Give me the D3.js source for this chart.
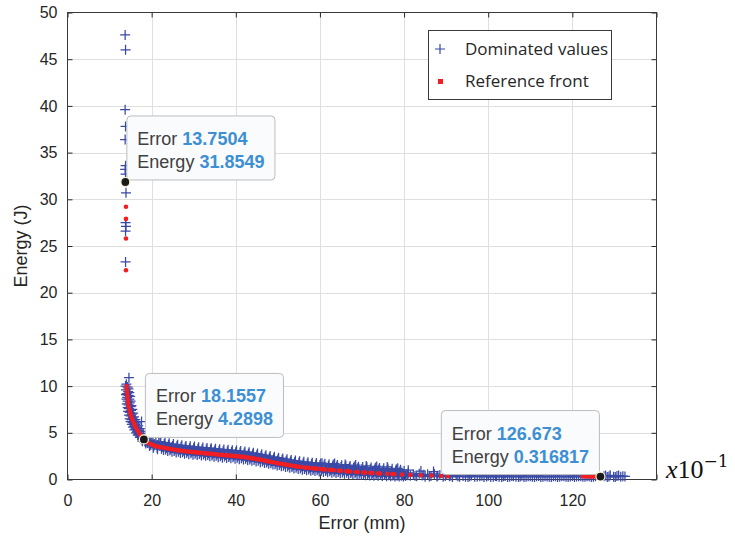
<!DOCTYPE html>
<html lang="en">
<head>
<meta charset="UTF-8">
<title>Energy vs Error</title>
<style>
  body { margin: 0; background: #fff; }
  svg { display: block; font-family: "Liberation Sans", Arial, sans-serif; }
  .tick text { fill: #262626; font-size: 16px; }
  .tick line { stroke: #262626; }
  .grid line { stroke: #dfdfdf; stroke-width: 1; }
</style>
<script src="https://d3js.org/d3.v7.min.js"></script>
</head>
<body>
<div id="chart"></div>
<script>
// axis ticks
const errorTicks = [0, 20, 40, 60, 80, 100, 120, 140];
const errorTickLabels = ["0", "20", "40", "60", "80", "100", "120", ""];
const energyTicks = [0, 5, 10, 15, 20, 25, 30, 35, 40, 45, 50];

// dominated values [error (x10^-1 mm), energy J]
const dominatedHigh = [
  [13.7,47.6],[13.8,46.0],[13.7,39.6],[13.8,37.8],[13.7,36.4],[13.8,33.6],[13.7,33.2],
  [13.8,32.7],[13.9,30.7],[13.8,27.5],[13.9,27.1],[13.8,26.6],[13.8,23.3]
];
const dominatedKnee = [
  [14.6,10.9],[14.0,10.2],[14.3,9.9],[13.9,9.6],[14.4,9.4],[14.1,9.2],[14.5,9.0],[14.2,8.8],
  [14.7,8.6],[14.3,8.4],[14.8,8.2],[14.5,8.0],[15.0,7.8],[14.6,7.6],[15.1,7.4],[14.8,7.2],
  [15.3,7.0],[15.0,6.8],[15.5,6.6],[15.2,6.4],[15.8,6.25],[17.6,6.2],[15.5,6.1],[16.0,5.9],
  [15.8,5.7],[16.4,5.55],[16.1,5.4],[16.8,5.25],[16.5,5.1],[17.2,4.95],[16.9,4.8],[17.6,4.7],
  [17.3,4.55],[18.0,4.5],[17.8,4.3],[18.6,4.3],[18.4,4.1],[19.2,4.1],[19.0,3.9],[19.9,3.95],
  [19.8,3.7],[20.6,3.8],[20.5,3.55],[21.4,3.7],[21.3,3.4]
];
const dominatedKneeFill = [
  [13.8,10.0],[14.5,9.7],[13.9,9.1],[14.7,9.3],[14.0,8.6],[14.9,8.9],[14.1,8.1],[15.0,8.4],
  [14.3,7.7],[15.2,7.9],[14.4,7.3],[15.4,7.5],[14.6,6.9],[15.6,7.1],[14.8,6.5],[15.8,6.7],
  [15.0,6.2],[16.1,6.4],[15.3,5.9],[16.4,6.05],[15.6,5.6],[16.8,5.75],[15.9,5.3],[17.2,5.45],
  [16.3,5.0],[17.6,5.15],[16.7,4.75],[18.0,4.9],[17.2,4.5],[18.5,4.65],[17.8,4.1],[19.0,4.45],
  [18.6,3.85],[19.6,4.2],[19.5,3.6],[20.3,4.1],[20.4,3.4],[21.0,4.0],[21.4,3.25],[21.7,3.9]
];
const dominatedBand = [
  [22.0,3.9],[22.33,3.3],[22.67,3.6],[23.0,3.8],[23.33,3.22],[23.67,3.5],
  [24.0,3.72],[24.33,3.12],[24.67,3.45],[25.0,3.6],[25.33,3.05],[25.67,3.35],
  [26.0,3.55],[26.33,2.98],[26.67,3.3],[27.0,3.5],[27.33,2.92],[27.67,3.2],
  [28.0,3.45],[28.33,2.86],[28.67,3.15],[29.0,3.35],[29.33,2.8],[29.67,3.1],
  [30.0,3.35],[30.33,2.77],[30.67,3.05],[31.0,3.28],[31.33,2.72],[31.67,3.0],
  [32.0,3.25],[32.33,2.68],[32.67,2.98],[33.0,3.2],[33.33,2.63],[33.67,2.92],
  [34.0,3.2],[34.33,2.58],[34.67,2.88],[35.0,3.1],[35.33,2.53],[35.67,2.85],
  [36.0,3.05],[36.33,2.48],[36.67,2.8],[37.0,3.02],[37.33,2.45],[37.67,2.75],
  [38.0,3.0],[38.33,2.42],[38.67,2.72],[39.0,2.95],[39.33,2.38],[39.67,2.68],
  [40.0,2.92],[40.33,2.33],[40.67,2.62],[41.0,2.88],[41.33,2.28],[41.67,2.57],
  [42.0,2.82],[42.33,2.22],[42.67,2.5],[43.0,2.75],[43.33,2.15],[43.67,2.45],
  [44.0,2.68],[44.33,2.08],[44.67,2.38],[45.0,2.6],[45.33,2.0],[45.67,2.3],
  [46.0,2.52],[46.33,1.92],[46.67,2.2],[47.0,2.45],[47.33,1.82],[47.67,2.12],
  [48.0,2.35],[48.33,1.73],[48.67,2.02],[49.0,2.25],[49.33,1.64],[49.67,1.94],
  [50.0,2.15],[50.33,1.56],[50.67,1.85],[51.0,2.08],[51.33,1.48],[51.67,1.78],
  [52.0,2.0],[52.33,1.4],[52.67,1.7],[53.0,1.92],[53.33,1.33],[53.67,1.62],
  [54.0,1.85],[54.33,1.26],[54.67,1.55],[55.0,1.8],[55.33,1.19],[55.67,1.48],
  [56.0,1.72],[56.33,1.13],[56.67,1.42],[57.0,1.68],[57.33,1.08],[57.67,1.38],
  [58.0,1.62],[58.33,1.03],[58.67,1.33],[59.0,1.58],[59.33,0.99],[59.67,1.28],
  [60.0,1.55],[60.33,0.95],[60.67,1.25],[61.0,1.5],[61.33,0.91],[61.67,1.2],
  [62.0,1.45],[62.33,0.87],[62.67,1.16],[63.0,1.42],[63.33,0.83],[63.67,1.12],
  [64.0,1.38],[64.33,0.8],[64.67,1.08],[65.0,1.35],[65.33,0.76],[65.67,1.05],
  [66.0,1.3],[66.33,0.73],[66.67,1.0],[67.0,1.28],[67.33,0.69],[67.67,0.97],
  [68.0,1.22],[68.33,0.66],[68.67,0.93],[69.0,1.2],[69.33,0.62],[69.67,0.9],
  [70.0,1.15],[70.33,0.6],[70.67,0.86],[71.0,1.12],[71.33,0.57],[71.67,0.84],
  [72.0,1.1],[72.33,0.55],[72.67,0.8],[73.0,1.05],[73.33,0.52],[73.67,0.78],
  [74.0,1.08],[74.33,0.5],[74.67,0.75],[75.0,0.98],[75.33,0.47],[75.67,0.72],
  [76.0,1.02],[76.33,0.45],[76.67,0.7],[77.0,0.92],[77.33,0.43],[77.67,0.66],
  [78.0,0.95],[78.33,0.41],[78.67,0.63],[79.0,0.85],[79.33,0.4],[79.67,0.6],
  [80.0,0.9],[80.33,0.38],[80.67,0.58]
];
const dominatedBandFill = [
  [22.17,4.05],[22.5,3.47],[22.83,3.15],[23.17,3.95],[23.5,3.4],[23.83,3.06],
  [24.17,3.88],[24.5,3.3],[24.83,2.98],[25.17,3.8],[25.5,3.22],[25.83,2.9],
  [26.17,3.72],[26.5,3.15],[26.83,2.83],[27.17,3.66],[27.5,3.08],[27.83,2.77],
  [28.17,3.6],[28.5,3.03],[28.83,2.71],[29.17,3.56],[29.5,2.98],[29.83,2.66],
  [30.17,3.52],[30.5,2.93],[30.83,2.62],[31.17,3.46],[31.5,2.9],[31.83,2.57],
  [32.17,3.42],[32.5,2.85],[32.83,2.53],[33.17,3.38],[33.5,2.8],[33.83,2.48],
  [34.17,3.35],[34.5,2.76],[34.83,2.44],[35.17,3.3],[35.5,2.7],[35.83,2.39],
  [36.17,3.25],[36.5,2.66],[36.83,2.34],[37.17,3.2],[37.5,2.62],[37.83,2.3],
  [38.17,3.18],[38.5,2.58],[38.83,2.27],[39.17,3.14],[39.5,2.55],[39.83,2.23],
  [40.17,3.1],[40.5,2.5],[40.83,2.18],[41.17,3.05],[41.5,2.46],[41.83,2.13],
  [42.17,3.0],[42.5,2.4],[42.83,2.07],[43.17,2.93],[43.5,2.34],[43.83,2.0],
  [44.17,2.86],[44.5,2.27],[44.83,1.93],[45.17,2.78],[45.5,2.19],[45.83,1.85],
  [46.17,2.7],[46.5,2.1],[46.83,1.77],[47.17,2.6],[47.5,2.02],[47.83,1.68],
  [48.17,2.52],[48.5,1.92],[48.83,1.6],[49.17,2.43],[49.5,1.83],[49.83,1.51],
  [50.17,2.34],[50.5,1.74],[50.83,1.42],[51.17,2.26],[51.5,1.66],[51.83,1.35],
  [52.17,2.18],[52.5,1.58],[52.83,1.27],[53.17,2.1],[53.5,1.5],[53.83,1.19],
  [54.17,2.03],[54.5,1.43],[54.83,1.12],[55.17,1.96],[55.5,1.36],[55.83,1.05],
  [56.17,1.9],[56.5,1.3],[56.83,0.99],[57.17,1.85],[57.5,1.25],[57.83,0.94],
  [58.17,1.8],[58.5,1.2],[58.83,0.9],[59.17,1.76],[59.5,1.16],[59.83,0.85],
  [60.17,1.72],[60.5,1.12],[60.83,0.81],[61.17,1.68],[61.5,1.08],[61.83,0.77],
  [62.17,1.64],[62.5,1.04],[62.83,0.73],[63.17,1.6],[63.5,1.0],[63.83,0.69],
  [64.17,1.56],[64.5,0.97],[64.83,0.66],[65.17,1.52],[65.5,0.93],[65.83,0.62],
  [66.17,1.48],[66.5,0.9],[66.83,0.59],[67.17,1.44],[67.5,0.86],[67.83,0.55],
  [68.17,1.4],[68.5,0.83],[68.83,0.52],[69.17,1.36],[69.5,0.79],[69.83,0.49],
  [70.17,1.34],[70.5,0.76],[70.83,0.46],[71.17,1.3],[71.5,0.73],[71.83,0.43],
  [72.17,1.28],[72.5,0.71],[72.83,0.41],[73.17,1.25],[73.5,0.68],[73.83,0.39],
  [74.17,1.22],[74.5,0.66],[74.83,0.37],[75.17,1.2],[75.5,0.63],[75.83,0.35],
  [76.17,1.18],[76.5,0.61],[76.83,0.34],[77.17,1.14],[77.5,0.58],[77.83,0.33],
  [78.17,1.1],[78.5,0.56],[78.83,0.32],[79.17,1.05],[79.5,0.54],[79.83,0.31]
];
const dominatedSpikes = [
  [60.5,1.75],[63.5,1.7],[66.0,1.6],[68.5,1.55],[71.0,1.45],[73.5,1.4],[76.0,1.35],
  [78.5,1.2],[81.0,1.0],[84.0,0.9],[87.0,0.85]
];
const dominatedTail = [
  [81.0,0.72],[81.5,0.4],[82.2,0.55],[83.0,0.35],[83.6,0.62],[84.3,0.42],[85.0,0.3],
  [85.6,0.55],[86.4,0.38],[87.2,0.6],[87.8,0.32],[88.5,0.48],[89.3,0.3],[90.0,0.5],
  [90.8,0.35],[91.5,0.28],[92.4,0.45],[93.2,0.3],[94.0,0.38],[95.2,0.28],[96.0,0.42],
  [96.8,0.3],[98.0,0.35],[99.0,0.27],[100.0,0.4],[101.2,0.3],[102.0,0.36],[103.2,0.28],
  [104.0,0.38],[105.1,0.3],[106.0,0.34],[107.2,0.27],[108.0,0.4],[109.0,0.3],[110.0,0.35],
  [111.0,0.28],[112.0,0.38],[113.0,0.3],[114.0,0.33],[115.0,0.28],[116.0,0.36],[117.0,0.3],
  [118.0,0.34],[119.0,0.28],[120.0,0.38],[121.0,0.31],[122.0,0.35],[123.0,0.3],[124.0,0.34],
  [125.0,0.3],[127.5,0.35],[128.3,0.28],[129.0,0.45],[129.8,0.3],[130.6,0.38],[131.5,0.3],
  [132.5,0.33]
];
const dominatedTailFill = [
  [80.9,0.45],[82.6,0.4],[84.7,0.5],[86.0,0.33],[88.0,0.4],[89.8,0.38],[91.1,0.42],
  [92.8,0.35],[94.6,0.3],[95.6,0.36],[97.4,0.32],[98.5,0.4],[99.6,0.33],[100.6,0.28],
  [101.7,0.38],[102.6,0.3],[103.6,0.35],[104.6,0.28],[105.6,0.38],[106.6,0.3],[107.6,0.33],
  [108.5,0.28],[109.5,0.36],[110.5,0.3],[111.5,0.35],[112.5,0.27],[113.5,0.36],[114.5,0.3],
  [115.5,0.35],[116.5,0.28],[117.5,0.37],[118.5,0.3],[119.5,0.33],[120.5,0.28],[121.5,0.36],
  [122.5,0.3],[123.5,0.35],[124.5,0.28],[125.5,0.35],[127.9,0.42],[128.7,0.33],[130.2,0.28],
  [131.0,0.42],[132.0,0.35]
];

// reference front
const frontHigh = [[13.75,31.85],[13.9,29.2],[13.9,27.9],[13.9,25.8],[13.9,22.4]];
const frontMain = [
  [14.06,9.98],[14.12,9.6],[14.18,9.25],[14.25,8.9],[14.32,8.56],[14.42,8.2],[14.55,7.85],
  [14.7,7.5],[14.85,7.2],[15.0,6.95],[15.2,6.7],[15.4,6.45],[15.6,6.2],[15.85,5.95],
  [16.1,5.7],[16.4,5.45],[16.7,5.2],[17.0,4.98],[17.35,4.75],[17.75,4.5],[18.16,4.29],
  [18.6,4.1],[19.1,3.95],[19.6,3.83],[20.1,3.72],[20.6,3.63],[21.1,3.56],[21.6,3.5],
  [22.1,3.46],[22.6,3.42],[23.1,3.38],[23.6,3.34],[24.1,3.3],[24.6,3.26],[25.1,3.22],
  [25.6,3.18],[26.1,3.14],[26.6,3.11],[27.1,3.08],[27.6,3.05],[28.1,3.02],[28.6,2.99],
  [29.1,2.97],[29.6,2.95],[30.1,2.93],[30.6,2.9],[31.1,2.88],[31.6,2.86],[32.1,2.84],
  [32.6,2.81],[33.1,2.79],[33.6,2.77],[34.1,2.75],[34.6,2.72],[35.1,2.7],[35.6,2.67],
  [36.1,2.65],[36.6,2.63],[37.1,2.61],[37.6,2.59],[38.1,2.58],[38.6,2.56],[39.1,2.54],
  [39.6,2.52],[40.1,2.5],[40.6,2.47],[41.1,2.45],[41.6,2.42],[42.1,2.4],[42.6,2.36],
  [43.1,2.33],[43.6,2.29],[44.1,2.26],[44.6,2.22],[45.1,2.18],[45.6,2.14],[46.1,2.1],
  [46.9,2.02],[47.4,1.97],[47.9,1.93],[48.4,1.88],[48.9,1.84],
  [49.6,1.77],[50.1,1.73],[50.6,1.69],[51.1,1.65],[51.6,1.62],[52.1,1.58],[52.6,1.54],[53.1,1.5],
  [53.9,1.44],[54.4,1.4],[54.9,1.37],[55.4,1.34],
  [56.3,1.28],[56.8,1.26],[57.3,1.24],
  [58.2,1.2],[58.7,1.18],[59.2,1.16],
  [60.2,1.11],[60.7,1.09],[61.2,1.07],
  [62.3,1.03],[62.8,1.01],[63.3,0.99],
  [64.5,0.95],[65.0,0.93],
  [66.2,0.89],[66.7,0.87],[67.2,0.86],
  [68.5,0.81],[69.0,0.79],
  [70.3,0.75],[70.8,0.74],
  [72.0,0.71],[72.5,0.7],
  [73.8,0.66],[74.3,0.65],
  [76.0,0.61],[77.2,0.58],[77.7,0.57],[79.5,0.53],[81.5,0.49],[84.0,0.45],[86.5,0.41],
  [88.8,0.37],[90.4,0.35],
  [122.5,0.34],[123.1,0.335],[123.7,0.33],[124.3,0.33],[124.9,0.325],[125.5,0.32],[126.1,0.318]
];

// data tips
const tipError = [13.7504, 18.1557, 126.673];
const tipEnergy = [31.8549, 4.2898, 0.316817];
const tipErrorText = ["13.7504", "18.1557", "126.673"];
const tipEnergyText = ["31.8549", "4.2898", "0.316817"];

const W = 735, H = 540;
const svg = d3.select("#chart").append("svg").attr("width", W).attr("height", H);
svg.append("rect").attr("width", W).attr("height", H).attr("fill", "#fff");

const x = d3.scaleLinear().domain([0, 140]).range([67.5, 656.5]);
const y = d3.scaleLinear().domain([0, 50]).range([479.5, 12.5]);

// grid
const grid = svg.append("g").attr("class", "grid");
grid.selectAll(".gx").data(errorTicks.slice(1, -1)).enter().append("line")
  .attr("x1", d => Math.round(x(d)) + 0.5).attr("x2", d => Math.round(x(d)) + 0.5)
  .attr("y1", y(0)).attr("y2", y(50));
grid.selectAll(".gy").data(energyTicks.slice(1, -1)).enter().append("line")
  .attr("y1", d => Math.round(y(d)) + 0.5).attr("y2", d => Math.round(y(d)) + 0.5)
  .attr("x1", x(0)).attr("x2", x(140));

// axes (ticks inside)
const axB = svg.append("g").attr("transform", `translate(0,${y(0)})`)
  .call(d3.axisBottom(x).tickValues(errorTicks).tickSizeInner(-5).tickSizeOuter(0).tickPadding(15)
    .tickFormat((d, i) => errorTickLabels[i]));
const axL = svg.append("g").attr("transform", `translate(${x(0)},0)`)
  .call(d3.axisLeft(y).tickValues(energyTicks).tickSizeInner(-5).tickSizeOuter(0).tickPadding(10));
const axT = svg.append("g").attr("transform", `translate(0,${y(50)})`)
  .call(d3.axisTop(x).tickValues(errorTicks).tickSizeInner(-5).tickSizeOuter(0).tickFormat(""));
const axR = svg.append("g").attr("transform", `translate(${x(140)},0)`)
  .call(d3.axisRight(y).tickValues(energyTicks).tickSizeInner(-5).tickSizeOuter(0).tickFormat(""));
[axB, axL, axT, axR].forEach(a => {
  a.select(".domain").remove();
  a.attr("font-family", null).attr("font-size", null);
});

// box
svg.append("rect")
  .attr("x", x(0)).attr("y", y(50))
  .attr("width", x(140) - x(0)).attr("height", y(0) - y(50))
  .attr("fill", "none").attr("stroke", "#3a3a3a").attr("stroke-width", 1);

// axis labels
svg.append("text")
  .attr("x", (x(0) + x(140)) / 2).attr("y", 529)
  .attr("text-anchor", "middle").attr("font-size", 18).attr("fill", "#262626")
  .text("Error (mm)");
svg.append("text")
  .attr("transform", `translate(27,${(y(0) + y(50)) / 2}) rotate(-90)`)
  .attr("text-anchor", "middle").attr("font-size", 18).attr("fill", "#262626")
  .text("Energy (J)");

// scale factor note
const sf = svg.append("text")
  .attr("x", 666).attr("y", 478)
  .attr("font-family", "'Liberation Serif', serif")
  .attr("font-size", 26).attr("fill", "#111");
sf.append("tspan").attr("font-style", "italic").text("x");
sf.append("tspan").text("10");
sf.append("tspan").attr("dy", -11).attr("font-family", "'DejaVu Serif', serif")
  .attr("font-size", 17).text("\u22121");

// dominated crosses
const blue = "#3949a6";
const dominated = dominatedHigh.concat(dominatedKnee, dominatedKneeFill, dominatedBand,
  dominatedBandFill, dominatedSpikes, dominatedTail, dominatedTailFill);
svg.append("g").selectAll("path").data(dominated).enter().append("path")
  .attr("d", d => `M${x(d[0]) - 5},${y(d[1])}h10M${x(d[0])},${y(d[1]) - 5}v10`)
  .attr("stroke", blue).attr("stroke-width", 1.25).attr("fill", "none");

// reference front
const red = "#f01e23";
const front = frontHigh.concat(frontMain);
svg.append("g").selectAll("circle").data(front).enter().append("circle")
  .attr("cx", d => x(d[0])).attr("cy", d => y(d[1]))
  .attr("r", 2.3).attr("fill", red);

// legend
const lg = svg.append("g");
lg.append("rect").attr("x", 428.5).attr("y", 30.5).attr("width", 183).attr("height", 69)
  .attr("fill", "#fff").attr("stroke", "#3a3a3a");
lg.append("path").attr("d", "M435,49h10M440,44v10").attr("stroke", blue).attr("stroke-width", 1.2);
lg.append("rect").attr("x", 438).attr("y", 79).attr("width", 5).attr("height", 5).attr("fill", red);
lg.selectAll(".lt").data(["Dominated values", "Reference front"]).enter().append("text")
  .attr("x", 465).attr("y", (d, i) => 55 + i * 32)
  .attr("font-family", "'Open Sans', 'Noto Sans', sans-serif").attr("font-size", 17)
  .attr("fill", "#262626").text(d => d);

// data tips
tipError.forEach((e, i) => {
  const px = x(e), py = y(tipEnergy[i]);
  const g = svg.append("g");
  const box = g.append("rect").attr("rx", 4).attr("ry", 4)
    .attr("fill", "#f9fbfd").attr("stroke", "#bdbdbd").attr("stroke-width", 1);
  const t1 = g.append("text").attr("font-size", 18).attr("fill", "#404040");
  t1.append("tspan").text("Error ");
  t1.append("tspan").attr("font-weight", "bold").attr("fill", "#3d8fd4").text(tipErrorText[i]);
  const t2 = g.append("text").attr("font-size", 18).attr("fill", "#404040");
  t2.append("tspan").text("Energy ");
  t2.append("tspan").attr("font-weight", "bold").attr("fill", "#3d8fd4").text(tipEnergyText[i]);
  const tw = Math.max(t1.node().getComputedTextLength(), t2.node().getComputedTextLength());
  const bw = tw + 21, bh = 64;
  const onLeft = px > (x(0) + x(140)) / 2;
  const bx = onLeft ? px - 1 - bw : px + 1.5;
  const by = py - 2 - bh;
  box.attr("x", bx).attr("y", by).attr("width", bw).attr("height", bh);
  t1.attr("x", bx + 10.5).attr("y", by + 29);
  t2.attr("x", bx + 10.5).attr("y", by + 52);
  svg.append("circle").attr("cx", px).attr("cy", py).attr("r", 4.5)
    .attr("fill", "#1a1a1a").attr("stroke", "#fff8d8").attr("stroke-width", 1.2);
});
</script>
</body>
</html>
